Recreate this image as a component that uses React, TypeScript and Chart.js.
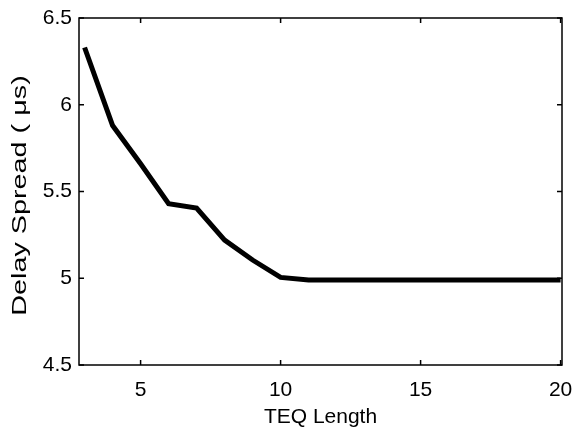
import React, { useEffect, useRef } from "react";
import { Chart, registerables } from "chart.js";

Chart.register(...registerables);

const teqLength = [3, 4, 5, 6, 7, 8, 9, 10, 11, 12, 13, 14, 15, 16, 17, 18, 19, 20];
const delaySpread = [6.33, 5.88, 5.66, 5.43, 5.405, 5.22, 5.105, 5.005, 4.99, 4.99, 4.99, 4.99, 4.99, 4.99, 4.99, 4.99, 4.99, 4.99];
const xTicks = [5, 10, 15, 20];
const yTicks = [4.5, 5, 5.5, 6, 6.5];
const xTitle = "TEQ Length";
const yTitle = "Delay Spread ( μs)";

const FAMILY = "'Liberation Sans', Arial, sans-serif";

const boxPlugin = {
  id: "matlabBox",
  afterDatasetsDraw(chart: any) {
    const { ctx, chartArea: a, scales } = chart;
    ctx.save();
    ctx.strokeStyle = "#000";
    ctx.lineWidth = 1.5;
    ctx.strokeRect(a.left, a.top, a.right - a.left, a.bottom - a.top);
    const L = 5;
    ctx.beginPath();
    for (const v of xTicks) {
      const px = scales.x.getPixelForValue(v);
      ctx.moveTo(px, a.bottom);
      ctx.lineTo(px, a.bottom - L);
      ctx.moveTo(px, a.top);
      ctx.lineTo(px, a.top + L);
    }
    for (const v of yTicks) {
      const py = scales.y.getPixelForValue(v);
      ctx.moveTo(a.left, py);
      ctx.lineTo(a.left + L, py);
      ctx.moveTo(a.right, py);
      ctx.lineTo(a.right - L, py);
    }
    ctx.stroke();
    // y-axis title, stretched along its reading direction like the scanned original
    ctx.fillStyle = "#000";
    ctx.font = `21px ${FAMILY}`;
    ctx.textAlign = "center";
    ctx.textBaseline = "middle";
    ctx.translate(20, (a.top + a.bottom) / 2 + 4);
    ctx.rotate(-Math.PI / 2);
    ctx.scale(1.37, 1);
    ctx.fillText(yTitle, 0, 0);
    ctx.restore();
  },
};

export default function App() {
  const ref = useRef<HTMLCanvasElement>(null);
  useEffect(() => {
    document.body.style.margin = "0";
    const font = { family: FAMILY, size: 21 };
    const chart = new Chart(ref.current!, {
      type: "line",
      data: {
        labels: teqLength,
        datasets: [
          {
            data: teqLength.map((x, i) => ({ x, y: delaySpread[i] })),
            borderColor: "#000",
            borderWidth: 5,
            pointRadius: 0,
            tension: 0,
            fill: false,
          },
        ],
      },
      options: {
        animation: false,
        responsive: false,
        devicePixelRatio: 1,
        layout: { padding: { top: 18, right: 12, left: 0, bottom: 0 } },
        plugins: { legend: { display: false }, tooltip: { enabled: false } },
        scales: {
          x: {
            type: "linear",
            min: 2.8,
            max: 20.05,
            afterBuildTicks: (s: any) => {
              s.ticks = xTicks.map((v) => ({ value: v }));
            },
            afterFit: (s: any) => {
              s.height = 70;
              s.paddingLeft = 0;
              s.paddingRight = 0;
            },
            grid: { display: false, drawTicks: false },
            border: { display: false },
            ticks: { color: "#000", font, padding: 13, maxRotation: 0, callback: (v: any) => String(v) },
            title: { display: true, text: xTitle, color: "#000", font, padding: { top: 0, bottom: 5 } },
          },
          y: {
            type: "linear",
            min: 4.5,
            max: 6.5,
            afterBuildTicks: (s: any) => {
              s.ticks = yTicks.map((v) => ({ value: v }));
            },
            afterFit: (s: any) => {
              s.width = 79;
              s.paddingTop = 0;
              s.paddingBottom = 0;
            },
            grid: { display: false, drawTicks: false },
            border: { display: false },
            ticks: { color: "#000", font, padding: 7, callback: (v: any) => String(v) },
          },
        },
      },
      plugins: [boxPlugin],
    });
    return () => chart.destroy();
  }, []);
  return (
    <div style={{ position: "fixed", left: 0, top: 0, width: 574, height: 435, background: "#fff" }}>
      <canvas ref={ref} width={574} height={435} style={{ width: 574, height: 435 }} />
    </div>
  );
}
